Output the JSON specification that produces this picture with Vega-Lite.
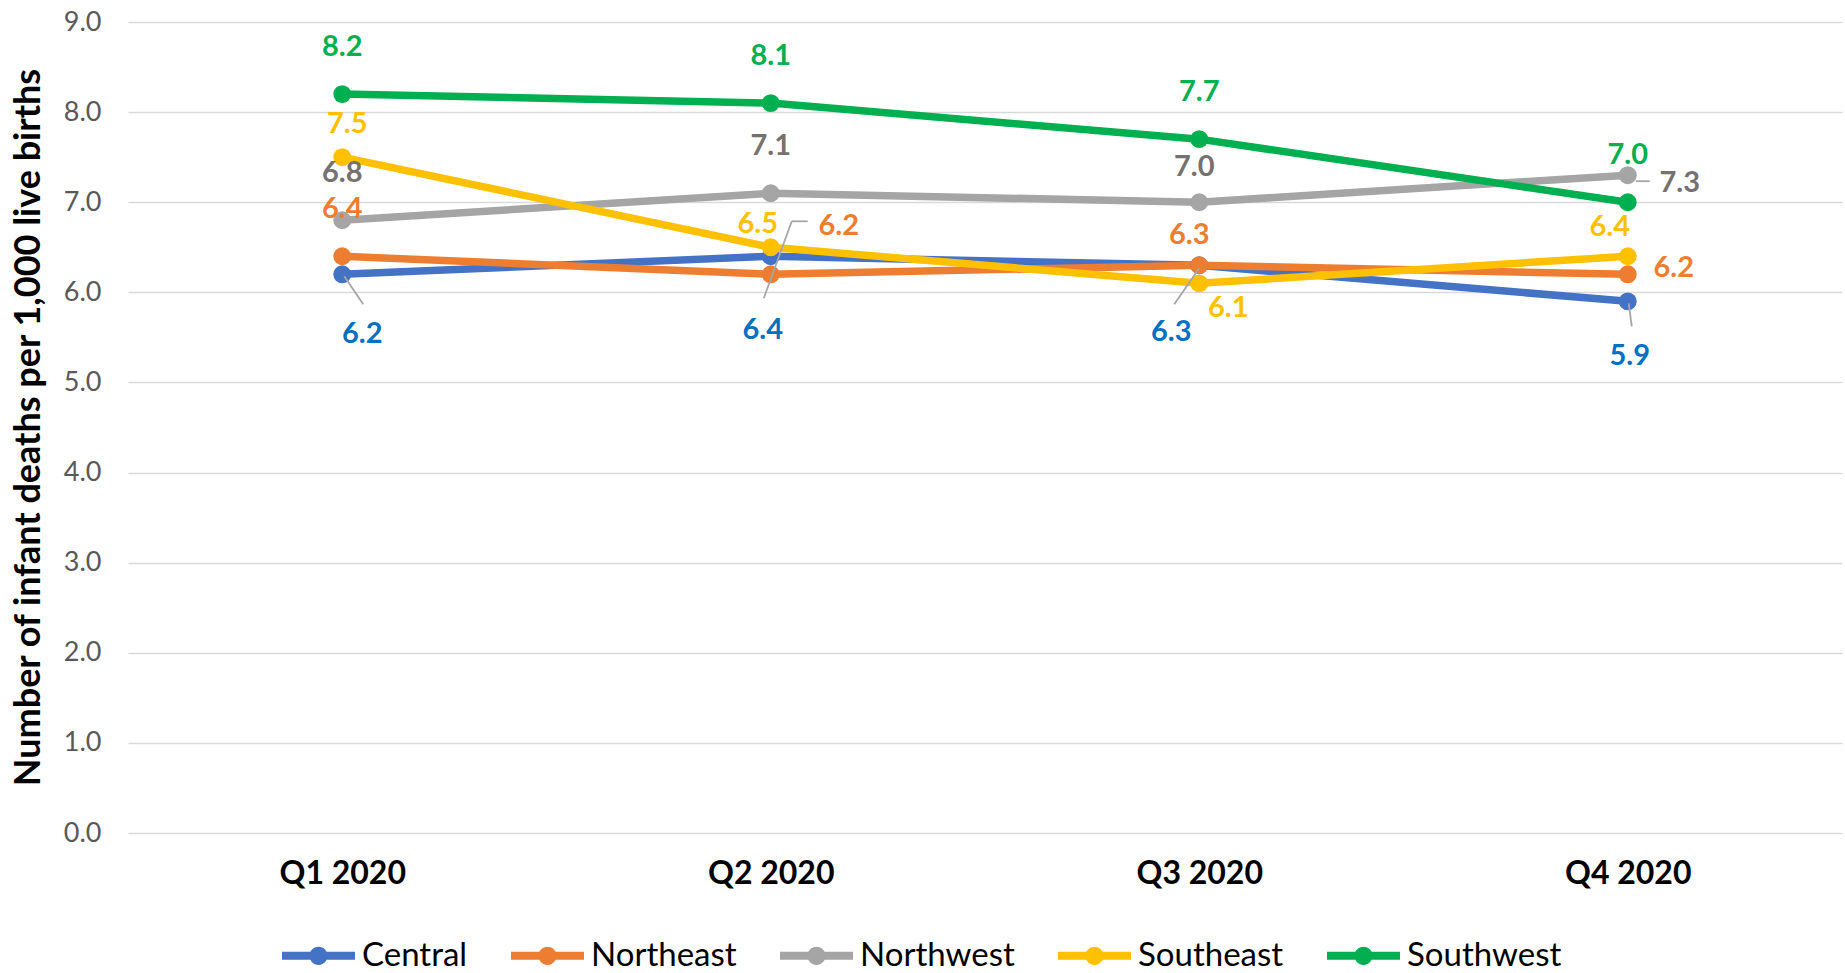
{
  "$schema": "https://vega.github.io/schema/vega-lite/v6.json",
  "width": 1714,
  "height": 811,
  "autosize": "none",
  "padding": {"left": 128, "top": 22, "right": 3, "bottom": 140},
  "background": "white",
  "config": {
    "view": {"stroke": null},
    "font": "Lato",
    "text": {"font": "Lato"}
  },
  "data": {
    "values": [
      {"region": "Central", "quarter": "Q1 2020", "value": 6.2},
      {"region": "Central", "quarter": "Q2 2020", "value": 6.4},
      {"region": "Central", "quarter": "Q3 2020", "value": 6.3},
      {"region": "Central", "quarter": "Q4 2020", "value": 5.9},
      {"region": "Northeast", "quarter": "Q1 2020", "value": 6.4},
      {"region": "Northeast", "quarter": "Q2 2020", "value": 6.2},
      {"region": "Northeast", "quarter": "Q3 2020", "value": 6.3},
      {"region": "Northeast", "quarter": "Q4 2020", "value": 6.2},
      {"region": "Northwest", "quarter": "Q1 2020", "value": 6.8},
      {"region": "Northwest", "quarter": "Q2 2020", "value": 7.1},
      {"region": "Northwest", "quarter": "Q3 2020", "value": 7.0},
      {"region": "Northwest", "quarter": "Q4 2020", "value": 7.3},
      {"region": "Southeast", "quarter": "Q1 2020", "value": 7.5},
      {"region": "Southeast", "quarter": "Q2 2020", "value": 6.5},
      {"region": "Southeast", "quarter": "Q3 2020", "value": 6.1},
      {"region": "Southeast", "quarter": "Q4 2020", "value": 6.4},
      {"region": "Southwest", "quarter": "Q1 2020", "value": 8.2},
      {"region": "Southwest", "quarter": "Q2 2020", "value": 8.1},
      {"region": "Southwest", "quarter": "Q3 2020", "value": 7.7},
      {"region": "Southwest", "quarter": "Q4 2020", "value": 7.0}
    ]
  },
  "encoding": {
    "x": {
      "field": "quarter",
      "type": "ordinal",
      "scale": {"type": "point", "padding": 0.5},
      "axis": {
        "title": null,
        "domain": false,
        "ticks": false,
        "tickSize": 0,
        "labelAngle": 0,
        "labelFont": "Lato",
        "labelFontSize": 32,
        "labelFontWeight": "bold",
        "labelColor": "#000000",
        "labelPadding": 25
      }
    },
    "y": {
      "field": "value",
      "type": "quantitative",
      "scale": {"domain": [0, 9], "nice": false},
      "axis": {
        "title": "Number of infant deaths per 1,000 live births",
        "values": [0, 1, 2, 3, 4, 5, 6, 7, 8, 9],
        "format": ".1f",
        "domain": false,
        "ticks": false,
        "tickSize": 0,
        "grid": true,
        "gridColor": "#D9D9D9",
        "gridWidth": 1.5,
        "labelFont": "Lato",
        "labelFontSize": 27,
        "labelColor": "#595959",
        "labelPadding": 27,
        "titleFont": "Lato",
        "titleFontSize": 36,
        "titleFontWeight": "bold",
        "titleColor": "#000000",
        "titleX": -100,
        "titleY": 405,
        "titleAlign": "center",
        "titleBaseline": "middle",
        "titleAngle": -90
      }
    }
  },
  "layer": [
    {
      "mark": {"type": "line", "strokeWidth": 7.5},
      "encoding": {
        "color": {
          "field": "region",
          "type": "nominal",
          "scale": {
            "domain": ["Central", "Northeast", "Northwest", "Southeast", "Southwest"],
            "range": ["#4472C4", "#ED7D31", "#A5A5A5", "#FFC000", "#00B050"]
          },
          "legend": {
            "title": null,
            "orient": "none",
            "direction": "horizontal",
            "legendX": 154,
            "legendY": 897,
            "symbolType": "M-1,-0.11H1V0.11H-1Z M0.25,0A0.25,0.25,0,1,1,-0.25,0A0.25,0.25,0,1,1,0.25,0Z",
            "symbolSize": 5329,
            "symbolStrokeWidth": 0,
            "labelFont": "Lato",
            "labelFontSize": 33,
            "labelColor": "#000000",
            "labelOffset": 7,
            "columnPadding": 43,
            "encode": {
              "symbols": {
                "update": {
                  "fill": {"scale": "color", "field": "value"},
                  "fillOpacity": {"value": 1},
                  "strokeWidth": {"value": 0}
                }
              }
            }
          }
        }
      }
    },
    {
      "mark": {"type": "point", "filled": true, "size": 320, "opacity": 1},
      "encoding": {
        "color": {"field": "region", "type": "nominal"}
      }
    },
    {
      "transform": [{"filter": "datum.region == 'Central' && datum.quarter == 'Q1 2020'"}],
      "mark": {"type": "rule", "color": "#A6A6A6", "strokeWidth": 1.8, "xOffset": 2, "yOffset": 2, "x2Offset": 21, "y2Offset": 30},
      "encoding": {"x2": {"field": "quarter"}, "y2": {"field": "value"}}
    },
    {
      "transform": [{"filter": "datum.region == 'Northeast' && datum.quarter == 'Q2 2020'"}],
      "mark": {"type": "rule", "color": "#A6A6A6", "strokeWidth": 1.8, "xOffset": 21, "yOffset": -53, "x2Offset": -7, "y2Offset": 24},
      "encoding": {"x2": {"field": "quarter"}, "y2": {"field": "value"}}
    },
    {
      "transform": [{"filter": "datum.region == 'Northeast' && datum.quarter == 'Q2 2020'"}],
      "mark": {"type": "rule", "color": "#A6A6A6", "strokeWidth": 1.8, "xOffset": 21, "yOffset": -53, "x2Offset": 37, "y2Offset": -53},
      "encoding": {"x2": {"field": "quarter"}, "y2": {"field": "value"}}
    },
    {
      "transform": [{"filter": "datum.region == 'Central' && datum.quarter == 'Q3 2020'"}],
      "mark": {"type": "rule", "color": "#A6A6A6", "strokeWidth": 1.8, "xOffset": 0, "yOffset": 3, "x2Offset": -25, "y2Offset": 39},
      "encoding": {"x2": {"field": "quarter"}, "y2": {"field": "value"}}
    },
    {
      "transform": [{"filter": "datum.region == 'Central' && datum.quarter == 'Q4 2020'"}],
      "mark": {"type": "rule", "color": "#A6A6A6", "strokeWidth": 1.8, "xOffset": 1, "yOffset": 2, "x2Offset": 4, "y2Offset": 25},
      "encoding": {"x2": {"field": "quarter"}, "y2": {"field": "value"}}
    },
    {
      "transform": [{"filter": "datum.region == 'Northwest' && datum.quarter == 'Q4 2020'"}],
      "mark": {"type": "rule", "color": "#A6A6A6", "strokeWidth": 1.8, "xOffset": 8, "yOffset": 6, "x2Offset": 22, "y2Offset": 6},
      "encoding": {"x2": {"field": "quarter"}, "y2": {"field": "value"}}
    },
    {
      "encoding": {
        "text": {"field": "value", "type": "quantitative", "format": ".1f"},
        "fill": {
          "field": "region",
          "type": "nominal",
          "scale": {
            "domain": ["Central", "Northeast", "Northwest", "Southeast", "Southwest"],
            "range": ["#0070C0", "#ED7D31", "#767171", "#FFC000", "#00B050"]
          },
          "legend": null
        }
      },
      "layer": [
        {
          "transform": [{"filter": "datum.region == 'Southwest' || (datum.region == 'Northwest' && (datum.quarter == 'Q1 2020' || datum.quarter == 'Q2 2020')) || (datum.region == 'Northeast' && datum.quarter == 'Q1 2020')"}],
          "mark": {"type": "text", "fontSize": 29, "fontWeight": "bold", "baseline": "middle", "align": "center", "dx": 0, "dy": -47}
        },
        {
          "transform": [{"filter": "datum.region == 'Southeast' && datum.quarter == 'Q1 2020'"}],
          "mark": {"type": "text", "fontSize": 29, "fontWeight": "bold", "baseline": "middle", "align": "center", "dx": 5, "dy": -33}
        },
        {
          "transform": [{"filter": "datum.region == 'Central' && datum.quarter == 'Q1 2020'"}],
          "mark": {"type": "text", "fontSize": 29, "fontWeight": "bold", "baseline": "middle", "align": "center", "dx": 20, "dy": 60}
        },
        {
          "transform": [{"filter": "datum.region == 'Southeast' && datum.quarter == 'Q2 2020'"}],
          "mark": {"type": "text", "fontSize": 29, "fontWeight": "bold", "baseline": "middle", "align": "center", "dx": -13, "dy": -23}
        },
        {
          "transform": [{"filter": "datum.region == 'Northeast' && datum.quarter == 'Q2 2020'"}],
          "mark": {"type": "text", "fontSize": 29, "fontWeight": "bold", "baseline": "middle", "align": "center", "dx": 68, "dy": -48}
        },
        {
          "transform": [{"filter": "datum.region == 'Central' && datum.quarter == 'Q2 2020'"}],
          "mark": {"type": "text", "fontSize": 29, "fontWeight": "bold", "baseline": "middle", "align": "center", "dx": -8, "dy": 74}
        },
        {
          "transform": [{"filter": "datum.region == 'Northwest' && datum.quarter == 'Q3 2020'"}],
          "mark": {"type": "text", "fontSize": 29, "fontWeight": "bold", "baseline": "middle", "align": "center", "dx": -5, "dy": -35}
        },
        {
          "transform": [{"filter": "datum.region == 'Northeast' && datum.quarter == 'Q3 2020'"}],
          "mark": {"type": "text", "fontSize": 29, "fontWeight": "bold", "baseline": "middle", "align": "center", "dx": -10, "dy": -30}
        },
        {
          "transform": [{"filter": "datum.region == 'Southeast' && datum.quarter == 'Q3 2020'"}],
          "mark": {"type": "text", "fontSize": 29, "fontWeight": "bold", "baseline": "middle", "align": "center", "dx": 29, "dy": 25}
        },
        {
          "transform": [{"filter": "datum.region == 'Central' && datum.quarter == 'Q3 2020'"}],
          "mark": {"type": "text", "fontSize": 29, "fontWeight": "bold", "baseline": "middle", "align": "center", "dx": -28, "dy": 67}
        },
        {
          "transform": [{"filter": "datum.region == 'Northwest' && datum.quarter == 'Q4 2020'"}],
          "mark": {"type": "text", "fontSize": 29, "fontWeight": "bold", "baseline": "middle", "align": "center", "dx": 52, "dy": 8}
        },
        {
          "transform": [{"filter": "datum.region == 'Southeast' && datum.quarter == 'Q4 2020'"}],
          "mark": {"type": "text", "fontSize": 29, "fontWeight": "bold", "baseline": "middle", "align": "center", "dx": -18, "dy": -29}
        },
        {
          "transform": [{"filter": "datum.region == 'Northeast' && datum.quarter == 'Q4 2020'"}],
          "mark": {"type": "text", "fontSize": 29, "fontWeight": "bold", "baseline": "middle", "align": "center", "dx": 46, "dy": -6}
        },
        {
          "transform": [{"filter": "datum.region == 'Central' && datum.quarter == 'Q4 2020'"}],
          "mark": {"type": "text", "fontSize": 29, "fontWeight": "bold", "baseline": "middle", "align": "center", "dx": 2, "dy": 55}
        }
      ]
    }
  ]
}
